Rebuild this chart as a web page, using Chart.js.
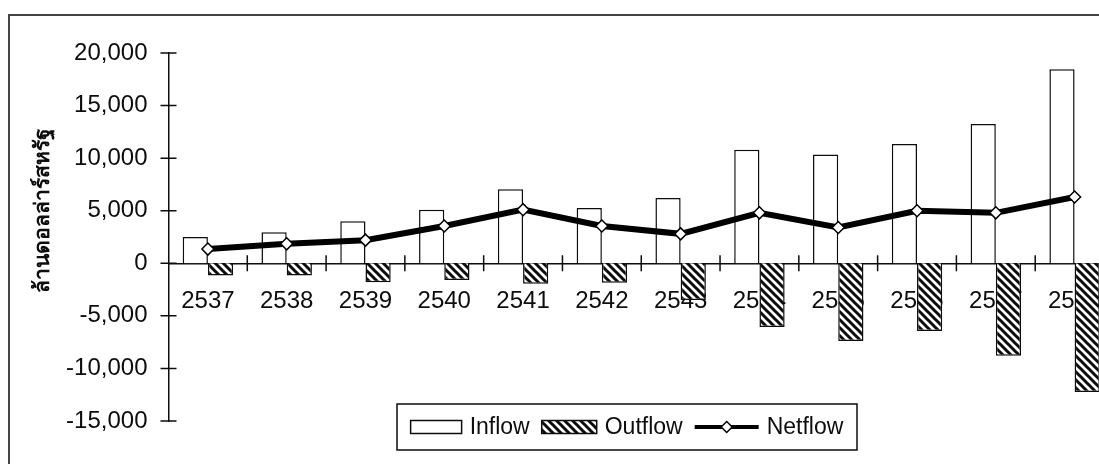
<!DOCTYPE html>
<html lang="th">
<head>
<meta charset="utf-8">
<title>Inflow / Outflow / Netflow</title>
<script src="https://cdn.jsdelivr.net/npm/chart.js@4.4.1/dist/chart.umd.min.js"></script>
<style>
  html, body { margin: 0; padding: 0; background: #fff; overflow: hidden; }
  #wrap { position: relative; width: 1099px; height: 464px; overflow: hidden; }
  #frame { position: absolute; left: 8px; top: 14px; width: 1200px; height: 600px; border: 2px solid #444; }
  #flow-chart { position: absolute; left: 0; top: 0; }
</style>
</head>
<body>
<div id="wrap">
  <div id="frame"></div>
  <canvas id="flow-chart" width="1130" height="464"></canvas>
</div>
<script>
const years = ["2537", "2538", "2539", "2540", "2541", "2542", "2543", "2544", "2545", "2546", "2547", "2548"];
const inflow = [2500, 2950, 4000, 5100, 7050, 5250, 6200, 10800, 10350, 11350, 13250, 18450];
const outflow = [-1150, -1150, -1800, -1600, -1950, -1850, -3500, -6050, -7400, -6450, -8800, -12250];
const netflow = [1350, 1850, 2200, 3550, 5100, 3550, 2800, 4800, 3400, 5000, 4800, 6300];
const yTickValues = [-15000, -10000, -5000, 0, 5000, 10000, 15000, 20000];
const yTitle = "ล้านดอลล่าร์สหรัฐ";

document.addEventListener("DOMContentLoaded", function () {
  const canvas = document.getElementById("flow-chart");
  const ink = "#0d0d0d";
  const labelFont = { family: "'Liberation Sans', Arial, sans-serif", size: 24 };

  // diagonal "\\\" hatch for the outflow bars
  function makeHatch() {
    const c = document.createElement("canvas");
    c.width = 8;
    c.height = 8;
    const g = c.getContext("2d");
    g.fillStyle = "#fff";
    g.fillRect(0, 0, 8, 8);
    g.strokeStyle = ink;
    g.lineWidth = 3;
    g.beginPath();
    for (let k = -8; k <= 8; k += 8) {
      g.moveTo(k - 2, -2);
      g.lineTo(k + 10, 10);
    }
    g.stroke();
    return g.createPattern(c, "repeat");
  }

  // short tick marks crossing both axes, like the original
  const crossTicks = {
    id: "crossTicks",
    beforeDatasetsDraw(chart) {
      const { ctx, scales: { x, y } } = chart;
      const zero = y.getPixelForValue(0);
      ctx.save();
      ctx.strokeStyle = ink;
      ctx.lineWidth = 1.5;
      ctx.beginPath();
      y.ticks.forEach(t => {
        const py = y.getPixelForValue(t.value);
        ctx.moveTo(x.left - 8, py);
        ctx.lineTo(x.left + 8, py);
      });
      for (let i = 1; i < years.length; i++) {
        const px = x.getPixelForValue(i - 0.5);
        ctx.moveTo(px, zero - 8);
        ctx.lineTo(px, zero + 8);
      }
      ctx.stroke();
      ctx.restore();
    }
  };

  // rotated unit label; sits a bit above the axis middle in the original
  const unitLabel = {
    id: "unitLabel",
    afterDraw(chart) {
      const ctx = chart.ctx;
      ctx.save();
      ctx.translate(43, 210);
      ctx.rotate(-Math.PI / 2);
      ctx.font = "bold 21px 'Noto Sans', 'DejaVu Sans', sans-serif";
      ctx.fillStyle = ink;
      ctx.textAlign = "center";
      ctx.textBaseline = "middle";
      ctx.fillText(yTitle, 0, 0);
      ctx.restore();
    }
  };

  // boxed legend sitting inside the bottom of the plot
  const boxLegend = {
    id: "boxLegend",
    afterDraw(chart) {
      const ctx = chart.ctx;
      const box = { left: 397, top: 404, right: 857, bottom: 450 };
      const midY = (box.top + box.bottom) / 2;
      ctx.save();
      ctx.font = `23px ${labelFont.family}`;
      ctx.textBaseline = "middle";

      const items = chart.data.datasets.map(ds => ({
        ds,
        sw: ds.type === "line" ? 64 : (ds.label === "Inflow" ? 51 : 55),
        tw: ctx.measureText(ds.label).width
      }));
      const gap = 8, after = 12;
      let total = 0;
      items.forEach((it, i) => {
        total += it.sw + gap + it.tw + (i < items.length - 1 ? after : 0);
      });
      let cx = (box.left + box.right) / 2 - total / 2;

      ctx.strokeStyle = ink;
      ctx.lineWidth = 1.5;
      ctx.strokeRect(box.left, box.top, box.right - box.left, box.bottom - box.top);

      items.forEach(it => {
        const ds = it.ds;
        if (ds.type === "line") {
          ctx.strokeStyle = ds.borderColor;
          ctx.lineWidth = 4;
          ctx.beginPath();
          ctx.moveTo(cx, midY);
          ctx.lineTo(cx + it.sw, midY);
          ctx.stroke();
          const r = 5.5, mx = cx + it.sw / 2;
          ctx.beginPath();
          ctx.moveTo(mx, midY - r);
          ctx.lineTo(mx + r, midY);
          ctx.lineTo(mx, midY + r);
          ctx.lineTo(mx - r, midY);
          ctx.closePath();
          ctx.fillStyle = "#fff";
          ctx.fill();
          ctx.lineWidth = 1.5;
          ctx.stroke();
        } else {
          ctx.fillStyle = ds.backgroundColor;
          ctx.fillRect(cx, midY - 6.5, it.sw, 13);
          ctx.strokeStyle = ink;
          ctx.lineWidth = 1.5;
          ctx.strokeRect(cx, midY - 6.5, it.sw, 13);
        }
        cx += it.sw + gap;
        ctx.fillStyle = ink;
        ctx.fillText(ds.label, cx, midY + 1);
        cx += it.tw + after;
      });
      ctx.restore();
    }
  };

  new Chart(canvas, {
    data: {
      labels: years,
      datasets: [
        {
          type: "bar",
          label: "Inflow",
          data: inflow,
          backgroundColor: "#fff",
          borderColor: ink,
          borderWidth: 1.5,
          categoryPercentage: 0.64,
          barPercentage: 1.0,
          order: 2
        },
        {
          type: "bar",
          label: "Outflow",
          data: outflow,
          backgroundColor: makeHatch(),
          borderColor: ink,
          borderWidth: 1.5,
          categoryPercentage: 0.64,
          barPercentage: 1.0,
          order: 2
        },
        {
          type: "line",
          label: "Netflow",
          data: netflow,
          borderColor: "#000",
          borderWidth: 6,
          tension: 0,
          pointStyle: "rectRot",
          pointRadius: 6,
          pointBackgroundColor: "#fff",
          pointBorderColor: "#000",
          pointBorderWidth: 1.5,
          order: 1
        }
      ]
    },
    options: {
      responsive: false,
      animation: false,
      devicePixelRatio: 1,
      layout: { padding: { top: 53, bottom: 43, left: 0, right: 16 } },
      plugins: {
        legend: { display: false },
        tooltip: { enabled: false }
      },
      scales: {
        x: {
          position: { y: 0 },
          offset: true,
          grid: { display: false, drawTicks: false },
          border: { display: true, color: ink, width: 1.5 },
          ticks: { color: ink, font: labelFont, padding: 24, maxRotation: 0, autoSkip: false }
        },
        y: {
          min: -15000,
          max: 20000,
          afterBuildTicks: s => { s.ticks = yTickValues.map(v => ({ value: v })); },
          afterFit: s => { s.width = 168.5; },
          grid: { display: false, drawTicks: false },
          border: { display: true, color: ink, width: 1.5 },
          ticks: {
            color: ink,
            font: labelFont,
            padding: 21,
            callback: v => v.toLocaleString("en-US")
          }
        }
      }
    },
    plugins: [crossTicks, unitLabel, boxLegend]
  });
});
</script>
</body>
</html>
